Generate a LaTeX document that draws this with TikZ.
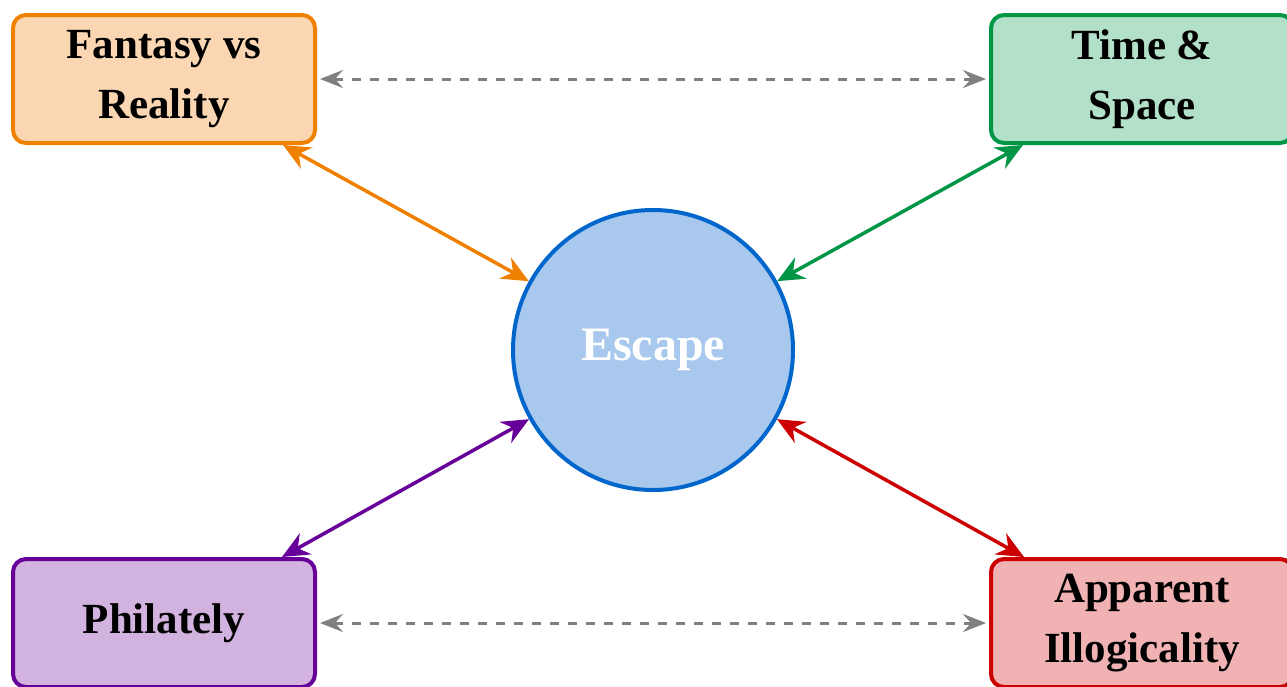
\documentclass[tikz,border=0pt]{standalone}
\usepackage{fontspec}
\setmainfont{Liberation Serif}
\usetikzlibrary{arrows.meta}
\definecolor{orB}{RGB}{240,128,0}
\definecolor{orF}{RGB}{250,215,178}
\definecolor{grB}{RGB}{0,150,70}
\definecolor{grF}{RGB}{178,224,200}
\definecolor{puB}{RGB}{102,0,153}
\definecolor{puF}{RGB}{210,178,222}
\definecolor{reB}{RGB}{204,0,0}
\definecolor{reF}{RGB}{240,178,178}
\definecolor{blB}{RGB}{0,102,204}
\definecolor{blF}{RGB}{168,200,238}
\definecolor{dgray}{RGB}{128,128,128}
\tikzset{
  topic/.style={rectangle, rounded corners=13pt, line width=4pt, minimum width=302pt,
    minimum height=128pt, inner sep=0pt, align=center,
    font=\bfseries\fontsize{43}{60}\selectfont},
  hub/.style={circle, line width=4pt, draw=blB, fill=blF, minimum size=280pt, inner sep=0pt,
    text=white, font=\bfseries\fontsize{48}{54}\selectfont},
  link/.style={line width=3.5pt, {Stealth[length=27pt,width=24pt,inset=9pt]}-{Stealth[length=27pt,width=24pt,inset=9pt]}},
  xlink/.style={line width=3pt, dgray, dash pattern=on 9pt off 9pt, shorten <=3pt, shorten >=3pt,
    {Stealth[length=23pt,width=18pt,inset=8pt]}-{Stealth[length=23pt,width=18pt,inset=8pt]}}
}
\begin{document}
\begin{tikzpicture}[x=1pt,y=-1pt]
\useasboundingbox (0,0) rectangle (1287,686);
\node[hub] (esc) at (653,350) {Escape};
\node[topic, draw=orB, fill=orF] (fr) at (164,79) {Fantasy vs\\Reality};
\node[topic, draw=grB, fill=grF] (ts) at (1142,79) {Time \&\\Space};
\node[topic, draw=puB, fill=puF] (ph) at (164,623) {Philately};
\node[topic, draw=reB, fill=reF] (ai) at (1142,623) {Apparent\\Illogicality};
\draw[link, orB] (fr) -- (esc);
\draw[link, grB] (ts) -- (esc);
\draw[link, puB] (ph) -- (esc);
\draw[link, reB] (ai) -- (esc);
\draw[xlink] (fr) -- (ts);
\draw[xlink] (ph) -- (ai);
\end{tikzpicture}
\end{document}
